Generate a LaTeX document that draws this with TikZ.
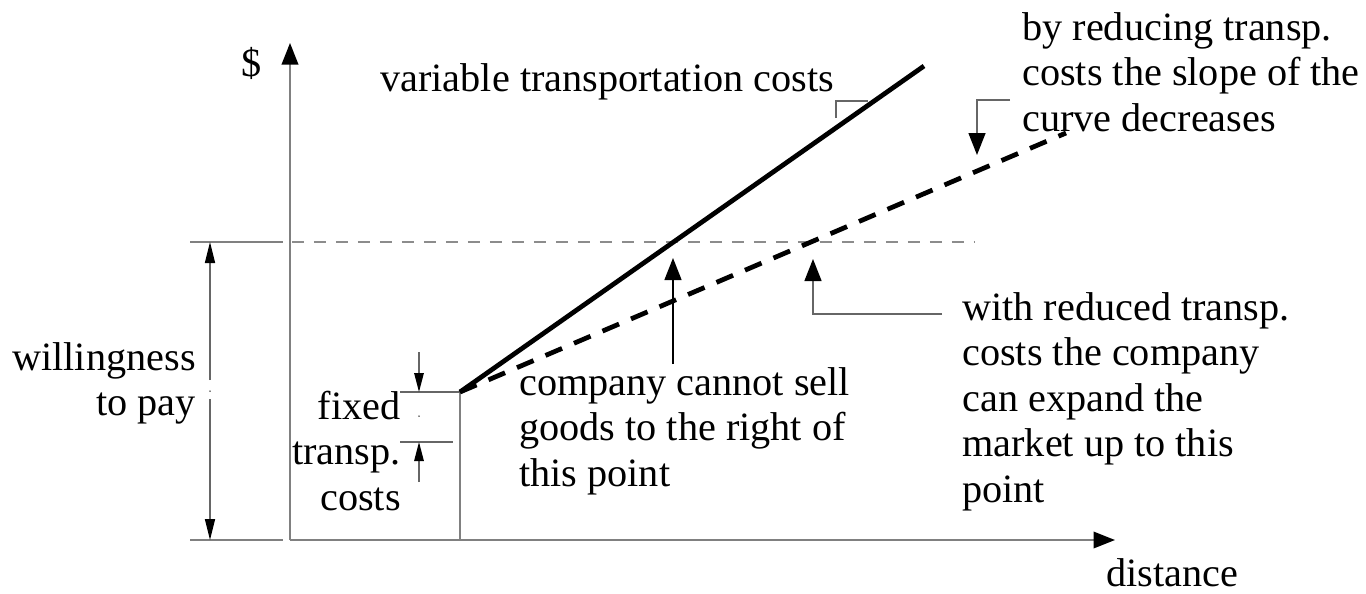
\documentclass[tikz,border=0pt]{standalone}
\usepackage{fontspec}
\setmainfont{Liberation Serif}
\usetikzlibrary{arrows.meta}
\newcommand{\mylines}[2]{\begin{tabular}[t]{@{}#1@{}}#2\end{tabular}}
\begin{document}
\begin{tikzpicture}[x=0.02cm,y=-0.02cm,
  lbl/.style={inner sep=0pt, font=\fontsize{22.9pt}{25.9pt}\selectfont},
  axis/.style={draw=black!50, line width=0.04cm},
  thinln/.style={draw=black!60, line width=0.028cm},
  curve/.style={draw=black, line width=0.095cm},
  bighead/.style={-{Triangle[length=0.44cm,width=0.34cm,color=black,fill=black]}},
  axhead/.style={-{Triangle[length=0.43cm,width=0.33cm,color=black,fill=black]}},
  smallhead/.style={-{Triangle[length=0.38cm,width=0.19cm,color=black,fill=black]}},
  dimhead/.style={-{Triangle[length=0.42cm,width=0.2cm,color=black,fill=black]}},
  dotmark/.style={fill=black, inner sep=0pt, minimum size=0.03cm, circle}
]
\useasboundingbox (0,0) rectangle (1366,593);

% key coordinates
\coordinate (O) at (290,540);
\coordinate (Ytop) at (290,43);
\coordinate (Xend) at (1115,540);
\coordinate (F) at (460,392);
\coordinate (Fb) at (460,540);
\coordinate (S) at (924,66);
\coordinate (D) at (1066,133);

% horizontal reference lines
\coordinate (WtL) at (190,242);
\coordinate (WtR) at (283,242);
\coordinate (WbL) at (190,540);
\coordinate (WbR) at (283,540);
\coordinate (DhL) at (292,242);
\coordinate (DhR) at (975,242);
\draw[axis, line width=0.03cm] (WtL) -- (WtR);
\draw[axis, line width=0.03cm] (WbL) -- (WbR);
\draw[draw=black!45, line width=0.028cm, dash pattern=on 0.24cm off 0.2cm] (DhL) -- (DhR);

% axes
\draw[axis, axhead] (O) -- (Ytop);
\draw[axis, axhead] (O) -- (Xend);

% willingness to pay dimension
\coordinate (W1) at (210,380);
\coordinate (W1t) at (210,242);
\coordinate (W2) at (210,399);
\coordinate (W2b) at (210,540);
\draw[thinln, dimhead] (W1) -- (W1t);
\draw[thinln, dimhead] (W2) -- (W2b);
\node[dotmark] (wdot) at (210,391) {};

% fixed transp. costs dimension
\draw[axis, line width=0.03cm] (F) -- (Fb);
\coordinate (Fl1) at (400,392);
\coordinate (Fl2) at (400,442);
\coordinate (Fr2) at (453,442);
\draw[thinln] (Fl1) -- (F);
\draw[thinln] (Fl2) -- (Fr2);
\coordinate (Fa1) at (419,352);
\coordinate (Fa1t) at (419,392);
\coordinate (Fa2) at (419,482);
\coordinate (Fa2t) at (419,442);
\draw[thinln, smallhead] (Fa1) -- (Fa1t);
\draw[thinln, smallhead] (Fa2) -- (Fa2t);
\node[dotmark] (fdot) at (419,416) {};

% bracket for variable costs (drawn before the curve)
\coordinate (Vb1) at (836,118);
\coordinate (Vb2) at (836,101);
\coordinate (Vb3) at (868,101);
\draw[thinln] (Vb1) -- (Vb2) -- (Vb3);

% curves
\draw[curve] (F) -- (S);
\draw[curve, dash pattern=on 0.36cm off 0.26cm] (F) -- (D);

% labels
\node[lbl, anchor=base] (dollar) at (252,76) {\$};
\node[lbl, anchor=base west] (dist) at (1106,586) {distance};
\node[lbl, anchor=base west] (var) at (380,91) {variable transportation costs};
\node[lbl, anchor=base west] (slope) at (1022,40) {\mylines{l}{by reducing transp.\\costs the slope of the\\curve decreases}};
\node[lbl, anchor=base west] (cannot) at (519,395) {\mylines{l}{company cannot sell\\goods to the right of\\this point}};
\node[lbl, anchor=base west] (expand) at (962,320) {\mylines{l}{with reduced transp.\\costs the company\\can expand the\\market up to this\\point}};
\node[lbl, anchor=base east] (wtp) at (196,370) {\mylines{r}{willingness\\to pay}};
\node[lbl, anchor=base east] (ftc) at (401,419) {\mylines{r}{fixed\\transp.\\costs}};

% pointer arrows
\coordinate (Sa1) at (1010,100);
\coordinate (Sa2) at (977,100);
\coordinate (Sa3) at (977,155);
\draw[thinln, bighead] (Sa1) -- (Sa2) -- (Sa3);

\coordinate (Ca1) at (673,364);
\coordinate (Ca2) at (673,258);
\draw[thinln, draw=black, bighead] (Ca1) -- (Ca2);

\coordinate (Ea1) at (942,314);
\coordinate (Ea2) at (813,314);
\coordinate (Ea3) at (813,259);
\draw[thinln, bighead] (Ea1) -- (Ea2) -- (Ea3);
\end{tikzpicture}
\end{document}
